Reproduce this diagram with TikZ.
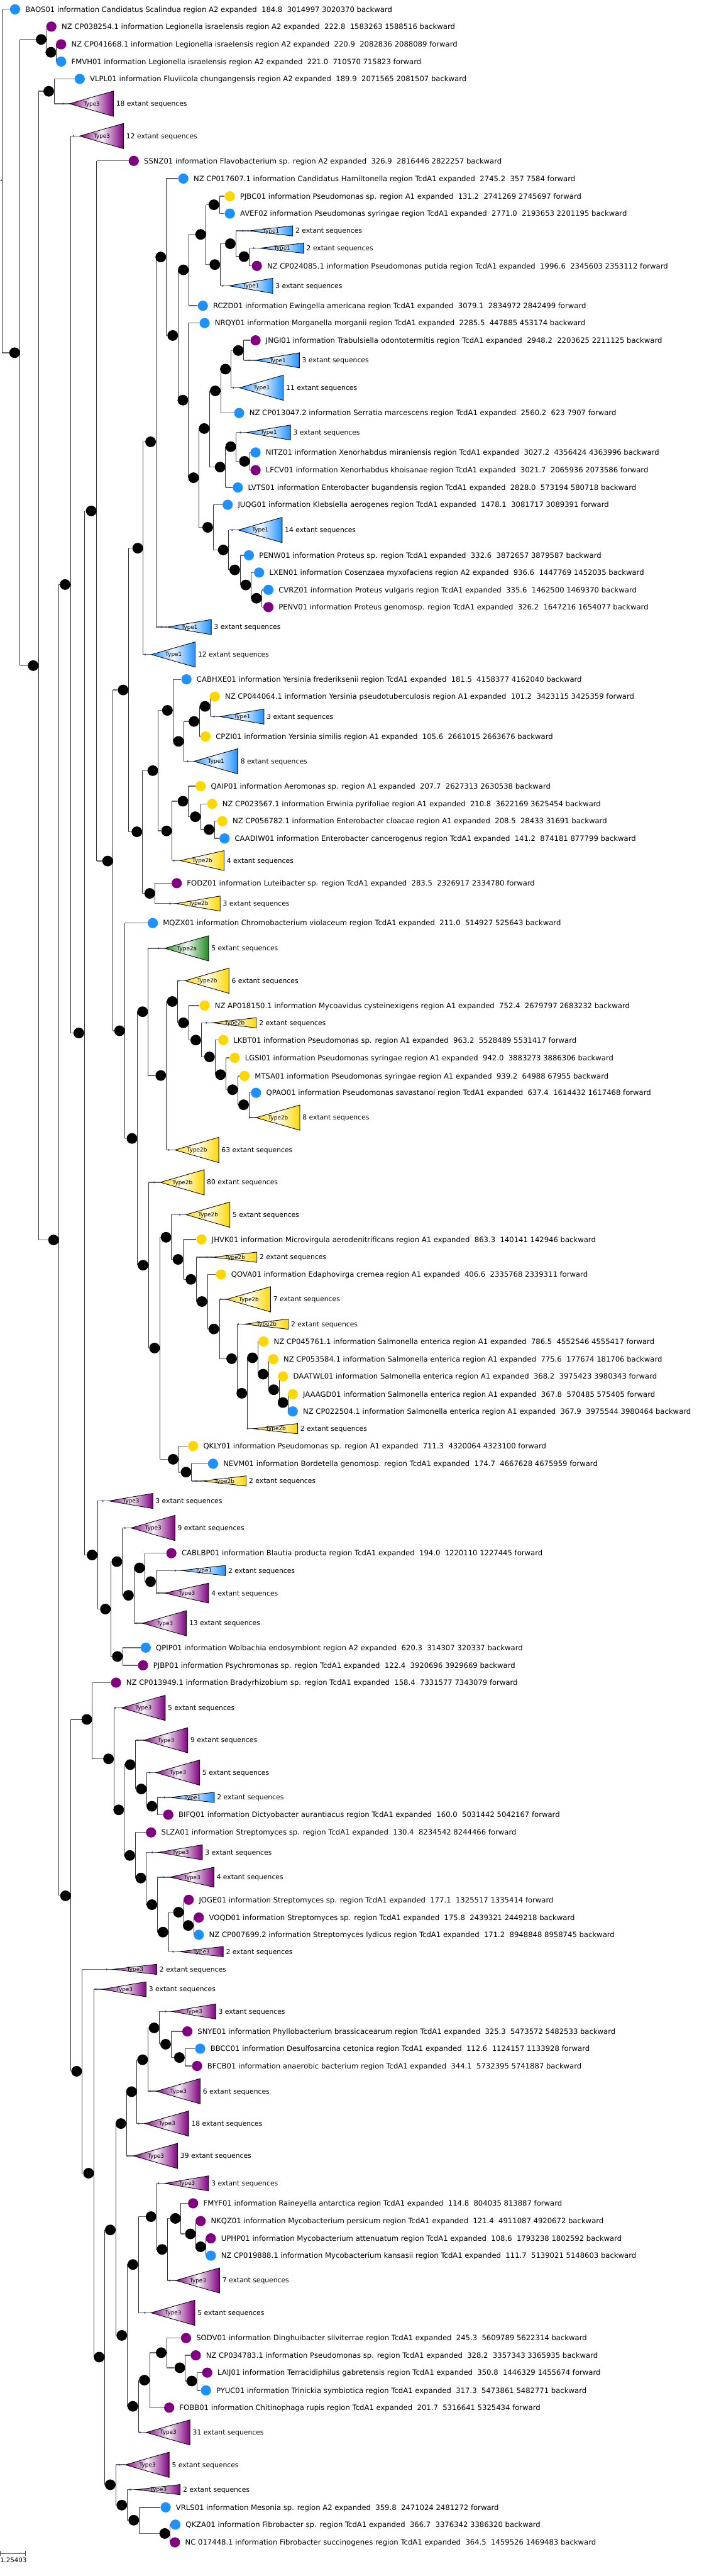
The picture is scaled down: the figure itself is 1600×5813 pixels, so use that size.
\documentclass[tikz,border=0pt]{standalone}
\usepackage{fontspec}
\setmainfont{DejaVu Sans}
\usetikzlibrary{backgrounds}
\pgfdeclarelayer{bgzero}
\pgfsetlayers{bgzero,background,main}
\definecolor{cb}{HTML}{1E90FF}
\definecolor{cp}{HTML}{800080}
\definecolor{cg}{HTML}{FFD700}
\definecolor{cgr}{HTML}{1F8A1F}
\definecolor{tipc}{HTML}{2346C8}
\newcommand\mkinode[3]{\node[inode] (#1) at (#2,#3) {};}
\newcommand\mkleaf[5]{\node[leafc, fill=#4] (#1) at (#2,#3) {};
  \node[lbl] (#1t) at ([xshift=23pt,yshift=-6pt]#1.center) {#5};}
\newcommand\mkclade[7]{\coordinate (#1) at (#2,#3);
  \path[draw=black, line width=1.2pt, left color=#5, right color=#5, middle color=#5!6] (#1) -- ++(99,-#4) -- ++(0,2*#4) -- cycle;
  \node[tipdot] (#1d) at ([xshift=-14pt]#1) {};
  \node[tlbl] (#1l) at ([xshift=50pt,yshift=-4.5pt]#1) {#6};
  \node[cnt] (#1t) at ([xshift=105pt,yshift=-5.5pt]#1) {#7 extant sequences};}
\newcommand\mkbr[2]{\draw[vline] (#1.east) -- (#1.east |- #2); \draw[hline] (#1.east |- #2) -- (#2);}
\begin{document}
\begin{tikzpicture}[x=1pt,y=-1pt,
 inode/.style={circle, fill=black, inner sep=0pt, minimum size=24pt},
 leafc/.style={circle, inner sep=0pt, minimum size=23pt},
 vline/.style={draw=black!80, line width=1.1pt},
 hline/.style={draw=black!60, line width=2pt},
 lbl/.style={font=\fontsize{16.5}{19}\selectfont, inner sep=0pt, anchor=base west},
 cnt/.style={font=\fontsize{15.3}{18}\selectfont, inner sep=0pt, anchor=base west},
 tlbl/.style={font=\fontsize{12.6}{15}\selectfont, inner sep=0pt, anchor=base},
 tipdot/.style={circle, fill=tipc, inner sep=0pt, minimum size=4.5pt}]
\begin{pgfonlayer}{bgzero}\fill[white] (0,0) rectangle (1600,5813);\end{pgfonlayer}
\useasboundingbox (0,0) rectangle (1600,5813);
% internal nodes
\node[tipdot] (root) at (3,407) {};
\mkinode{nN1}{33}{796}
\mkinode{nA}{93}{89}
\mkinode{nB}{115}{118}
\mkinode{nD}{75}{1502}
\mkinode{nC}{110}{206}
\mkinode{nE}{121}{2798}
\mkinode{nF}{147}{1319}
\mkinode{nFF}{178}{2331}
\mkinode{nG}{206}{1153}
\mkinode{nX}{208}{3509}
\mkinode{nV}{243}{1943}
\mkinode{nT}{278}{1557}
\mkinode{nW}{270}{2326}
\mkinode{nS}{311}{1237}
\mkinode{nU}{309}{1877}
\mkinode{nR}{340}{997}
\mkinode{nH}{363}{580}
\mkinode{nI}{390}{757}
\mkinode{nO}{414}{609}
\mkinode{nP}{413}{903}
\mkinode{nJ}{453}{529}
\mkinode{nK}{483}{462}
\mkinode{nL}{485}{597}
\mkinode{nM}{520}{550}
\mkinode{nN}{551}{579}
\mkinode{nQ}{437}{1078}
\mkinode{nQ1}{461}{967}
\mkinode{nQ2}{469}{1190}
\mkinode{nQ11}{486}{882}
\mkinode{nQ12}{497}{1054}
\mkinode{nQ111}{509}{833}
\mkinode{nQ1111}{538}{791}
\mkinode{nQ121}{521}{1008}
\mkinode{nQ1211}{552}{1041}
\mkinode{nQ21}{504}{1241}
\mkinode{nQ211}{530}{1286}
\mkinode{nQ2111}{555}{1320}
\mkinode{nQ21111}{579}{1350}
\mkinode{nU1}{345}{1739}
\mkinode{nU2}{338}{2016}
\mkinode{nU11}{378}{1603}
\mkinode{nU12}{376}{1875}
\mkinode{nU111}{403}{1673}
\mkinode{nU1111}{438}{1628}
\mkinode{nU11111}{463}{1594}
\mkinode{nU121}{413}{1808}
\mkinode{nU1211}{441}{1843}
\mkinode{nU12111}{472}{1872}
\mkinode{nW2}{298}{2569}
\mkinode{nW21}{322}{2283}
\mkinode{nW22}{323}{2855}
\mkinode{nW212}{363}{2427}
\mkinode{nW2121}{389}{2260}
\mkinode{nW21212}{414}{2308}
\mkinode{na1}{442}{2347}
\mkinode{na2}{473}{2385}
\mkinode{na3}{498}{2425}
\mkinode{na4}{525}{2459}
\mkinode{na5}{550}{2493}
\mkinode{nb1}{349}{3042}
\mkinode{nb11}{375}{2792}
\mkinode{nb12}{391}{3293}
\mkinode{nb111}{402}{2842}
\mkinode{nb1111}{431}{2887}
\mkinode{nb11111}{456}{2937}
\mkinode{nc1}{483}{2999}
\mkinode{nc2}{523}{3066}
\mkinode{nc3}{546}{3144}
\mkinode{nc4}{570}{3064}
\mkinode{nc5}{594}{3101}
\mkinode{nc6}{618}{3136}
\mkinode{nc7}{639}{3165}
\mkinode{nb121}{420}{3322}
\mkinode{nX2}{238}{3631}
\mkinode{nX21}{264}{3524}
\mkinode{nX22}{265}{3738}
\mkinode{nX212}{290}{3600}
\mkinode{nX2121}{315}{3538}
\mkinode{nX21212}{340}{3569}
\mkinode{nZ}{148}{4278}
\mkinode{nY}{196}{3880}
\mkinode{nY2}{245}{3969}
\mkinode{nY22}{268}{4084}
\mkinode{nY221}{294}{3982}
\mkinode{nY2212}{319}{4037}
\mkinode{nY22122}{343}{4076}
\mkinode{nY222}{293}{4187}
\mkinode{nY2222}{318}{4238}
\mkinode{nY22222}{343}{4298}
\mkinode{nY222222}{368}{4360}
\mkinode{nd1}{403}{4315}
\mkinode{nd2}{425}{4345}
\mkinode{nZ2}{173}{4674}
\mkinode{nZ22}{200}{4904}
\mkinode{nZ222}{224}{5319}
\mkinode{ne1}{249}{5032}
\mkinode{ne2}{249}{5607}
\mkinode{ne11}{273}{4792}
\mkinode{ne12}{275}{5270}
\mkinode{ne111}{297}{4720}
\mkinode{ne1111}{322}{4648}
\mkinode{ne11111}{348}{4576}
\mkinode{ne111112}{374}{4613}
\mkinode{ne1111122}{405}{4643}
\mkinode{nf1}{300}{5110}
\mkinode{nf2}{300}{5430}
\mkinode{nf11}{341}{5002}
\mkinode{nf112}{366}{5076}
\mkinode{nf1121}{396}{5006}
\mkinode{nf11212}{430}{5041}
\mkinode{nf112122}{453}{5070}
\mkinode{nf21}{326}{5371}
\mkinode{nf211}{364}{5309}
\mkinode{nf2112}{406}{5343}
\mkinode{nf21122}{433}{5373}
\mkinode{ne22}{275}{5653}
\mkinode{ne222}{302}{5687}
\mkinode{ne2222}{372}{5717}
% leaves
\mkleaf{l1}{34}{21}{cb}{BAOS01 information Candidatus Scalindua region A2 expanded\ \ 184.8\ \ 3014997 3020370 backward}
\mkleaf{l2}{116}{60}{cp}{NZ CP038254.1 information Legionella israelensis region A2 expanded\ \ 222.8\ \ 1583263 1588516 backward}
\mkleaf{l3}{138}{100}{cp}{NZ CP041668.1 information Legionella israelensis region A2 expanded\ \ 220.9\ \ 2082836 2088089 forward}
\mkleaf{l4}{138}{139}{cb}{FMVH01 information Legionella israelensis region A2 expanded\ \ 221.0\ \ 710570 715823 forward}
\mkleaf{l5}{180}{178}{cb}{VLPL01 information Fluviicola chungangensis region A2 expanded\ \ 189.9\ \ 2071565 2081507 backward}
\mkleaf{l6}{302}{363}{cp}{SSNZ01 information Flavobacterium sp. region A2 expanded\ \ 326.9\ \ 2816446 2822257 backward}
\mkleaf{l7}{414}{403}{cb}{NZ CP017607.1 information Candidatus Hamiltonella region TcdA1 expanded\ \ 2745.2\ \ 357 7584 forward}
\mkleaf{l8}{519}{443}{cg}{PJBC01 information Pseudomonas sp. region A1 expanded\ \ 131.2\ \ 2741269 2745697 forward}
\mkleaf{l9}{519}{482}{cb}{AVEF02 information Pseudomonas syringae region TcdA1 expanded\ \ 2771.0\ \ 2193653 2201195 backward}
\mkleaf{l10}{580}{600}{cp}{NZ CP024085.1 information Pseudomonas putida region TcdA1 expanded\ \ 1996.6\ \ 2345603 2353112 forward}
\mkleaf{l11}{458}{690}{cb}{RCZD01 information Ewingella americana region TcdA1 expanded\ \ 3079.1\ \ 2834972 2842499 forward}
\mkleaf{l12}{462}{729}{cb}{NRQY01 information Morganella morganii region TcdA1 expanded\ \ 2285.5\ \ 447885 453174 backward}
\mkleaf{l13}{577}{768}{cp}{JNGI01 information Trabulsiella odontotermitis region TcdA1 expanded\ \ 2948.2\ \ 2203625 2211125 backward}
\mkleaf{l14}{540}{932}{cb}{NZ CP013047.2 information Serratia marcescens region TcdA1 expanded\ \ 2560.2\ \ 623 7907 forward}
\mkleaf{l15}{577}{1021}{cb}{NITZ01 information Xenorhabdus miraniensis region TcdA1 expanded\ \ 3027.2\ \ 4356424 4363996 backward}
\mkleaf{l16}{577}{1061}{cp}{LFCV01 information Xenorhabdus khoisanae region TcdA1 expanded\ \ 3021.7\ \ 2065936 2073586 forward}
\mkleaf{l17}{537}{1100}{cb}{LVTS01 information Enterobacter bugandensis region TcdA1 expanded\ \ 2828.0\ \ 573194 580718 backward}
\mkleaf{l18}{514}{1139}{cb}{JUQG01 information Klebsiella aerogenes region TcdA1 expanded\ \ 1478.1\ \ 3081717 3089391 forward}
\mkleaf{l19}{562}{1253}{cb}{PENW01 information Proteus sp. region TcdA1 expanded\ \ 332.6\ \ 3872657 3879587 backward}
\mkleaf{l20}{585}{1292}{cb}{LXEN01 information Cosenzaea myxofaciens region A2 expanded\ \ 936.6\ \ 1447769 1452035 backward}
\mkleaf{l21}{606}{1331}{cb}{CVRZ01 information Proteus vulgaris region TcdA1 expanded\ \ 335.6\ \ 1462500 1469370 backward}
\mkleaf{l22}{606}{1370}{cp}{PENV01 information Proteus genomosp. region TcdA1 expanded\ \ 326.2\ \ 1647216 1654077 backward}
\mkleaf{l23}{421}{1533}{cb}{CABHXE01 information Yersinia frederiksenii region TcdA1 expanded\ \ 181.5\ \ 4158377 4162040 backward}
\mkleaf{l24}{485}{1572}{cg}{NZ CP044064.1 information Yersinia pseudotuberculosis region A1 expanded\ \ 101.2\ \ 3423115 3425359 forward}
\mkleaf{l25}{464}{1662}{cg}{CPZI01 information Yersinia similis region A1 expanded\ \ 105.6\ \ 2661015 2663676 backward}
\mkleaf{l26}{453}{1774}{cg}{QAIP01 information Aeromonas sp. region A1 expanded\ \ 207.7\ \ 2627313 2630538 backward}
\mkleaf{l27}{479}{1814}{cg}{NZ CP023567.1 information Erwinia pyrifoliae region A1 expanded\ \ 210.8\ \ 3622169 3625454 backward}
\mkleaf{l28}{502}{1853}{cg}{NZ CP056782.1 information Enterobacter cloacae region A1 expanded\ \ 208.5\ \ 28433 31691 backward}
\mkleaf{l29}{507}{1892}{cb}{CAADIW01 information Enterobacter cancerogenus region TcdA1 expanded\ \ 141.2\ \ 874181 877799 backward}
\mkleaf{l30}{399}{1993}{cp}{FODZ01 information Luteibacter sp. region TcdA1 expanded\ \ 283.5\ \ 2326917 2334780 forward}
\mkleaf{l31}{345}{2083}{cb}{MQZX01 information Chromobacterium violaceum region TcdA1 expanded\ \ 211.0\ \ 514927 525643 backward}
\mkleaf{l32}{462}{2269}{cg}{NZ AP018150.1 information Mycoavidus cysteinexigens region A1 expanded\ \ 752.4\ \ 2679797 2683232 backward}
\mkleaf{l33}{504}{2347}{cg}{LKBT01 information Pseudomonas sp. region A1 expanded\ \ 963.2\ \ 5528489 5531417 forward}
\mkleaf{l34}{530}{2387}{cg}{LGSI01 information Pseudomonas syringae region A1 expanded\ \ 942.0\ \ 3883273 3886306 backward}
\mkleaf{l35}{552}{2428}{cg}{MTSA01 information Pseudomonas syringae region A1 expanded\ \ 939.2\ \ 64988 67955 backward}
\mkleaf{l36}{578}{2466}{cb}{QPAO01 information Pseudomonas savastanoi region TcdA1 expanded\ \ 637.4\ \ 1614432 1617468 forward}
\mkleaf{l37}{455}{2797}{cg}{JHVK01 information Microvirgula aerodenitrificans region A1 expanded\ \ 863.3\ \ 140141 142946 backward}
\mkleaf{l38}{499}{2876}{cg}{QOVA01 information Edaphovirga cremea region A1 expanded\ \ 406.6\ \ 2335768 2339311 forward}
\mkleaf{l39}{595}{3027}{cg}{NZ CP045761.1 information Salmonella enterica region A1 expanded\ \ 786.5\ \ 4552546 4555417 forward}
\mkleaf{l40}{617}{3067}{cg}{NZ CP053584.1 information Salmonella enterica region A1 expanded\ \ 775.6\ \ 177674 181706 backward}
\mkleaf{l41}{639}{3106}{cg}{DAATWL01 information Salmonella enterica region A1 expanded\ \ 368.2\ \ 3975423 3980343 forward}
\mkleaf{l42}{661}{3146}{cg}{JAAAGD01 information Salmonella enterica region A1 expanded\ \ 367.8\ \ 570485 575405 forward}
\mkleaf{l43}{661}{3185}{cb}{NZ CP022504.1 information Salmonella enterica region A1 expanded\ \ 367.9\ \ 3975544 3980464 backward}
\mkleaf{l44}{436}{3263}{cg}{QKLY01 information Pseudomonas sp. region A1 expanded\ \ 711.3\ \ 4320064 4323100 forward}
\mkleaf{l45}{481}{3303}{cb}{NEVM01 information Bordetella genomosp. region TcdA1 expanded\ \ 174.7\ \ 4667628 4675959 forward}
\mkleaf{l46}{387}{3505}{cp}{CABLBP01 information Blautia producta region TcdA1 expanded\ \ 194.0\ \ 1220110 1227445 forward}
\mkleaf{l47}{329}{3718}{cb}{QPIP01 information Wolbachia endosymbiont region A2 expanded\ \ 620.3\ \ 314307 320337 backward}
\mkleaf{l48}{323}{3758}{cp}{PJBP01 information Psychromonas sp. region TcdA1 expanded\ \ 122.4\ \ 3920696 3929669 backward}
\mkleaf{l49}{262}{3797}{cp}{NZ CP013949.1 information Bradyrhizobium sp. region TcdA1 expanded\ \ 158.4\ \ 7331577 7343079 forward}
\mkleaf{l50}{380}{4095}{cp}{BIFQ01 information Dictyobacter aurantiacus region TcdA1 expanded\ \ 160.0\ \ 5031442 5042167 forward}
\mkleaf{l51}{341}{4135}{cp}{SLZA01 information Streptomyces sp. region TcdA1 expanded\ \ 130.4\ \ 8234542 8244466 forward}
\mkleaf{l52}{426}{4287}{cp}{JOGE01 information Streptomyces sp. region TcdA1 expanded\ \ 177.1\ \ 1325517 1335414 forward}
\mkleaf{l53}{449}{4327}{cp}{VOQD01 information Streptomyces sp. region TcdA1 expanded\ \ 175.8\ \ 2439321 2449218 backward}
\mkleaf{l54}{449}{4366}{cb}{NZ CP007699.2 information Streptomyces lydicus region TcdA1 expanded\ \ 171.2\ \ 8948848 8958745 backward}
\mkleaf{l55}{423}{4584}{cp}{SNYE01 information Phyllobacterium brassicacearum region TcdA1 expanded\ \ 325.3\ \ 5473572 5482533 backward}
\mkleaf{l56}{452}{4623}{cb}{BBCC01 information Desulfosarcina cetonica region TcdA1 expanded\ \ 112.6\ \ 1124157 1133928 forward}
\mkleaf{l57}{445}{4662}{cp}{BFCB01 information anaerobic bacterium region TcdA1 expanded\ \ 344.1\ \ 5732395 5741887 backward}
\mkleaf{l58}{436}{4972}{cp}{FMYF01 information Raineyella antarctica region TcdA1 expanded\ \ 114.8\ \ 804035 813887 forward}
\mkleaf{l59}{453}{5012}{cp}{NKQZ01 information Mycobacterium persicum region TcdA1 expanded\ \ 121.4\ \ 4911087 4920672 backward}
\mkleaf{l60}{476}{5051}{cp}{UPHP01 information Mycobacterium attenuatum region TcdA1 expanded\ \ 108.6\ \ 1793238 1802592 backward}
\mkleaf{l61}{476}{5090}{cb}{NZ CP019888.1 information Mycobacterium kansasii region TcdA1 expanded\ \ 111.7\ \ 5139021 5148603 backward}
\mkleaf{l62}{420}{5276}{cp}{SODV01 information Dinghuibacter silviterrae region TcdA1 expanded\ \ 245.3\ \ 5609789 5622314 backward}
\mkleaf{l63}{442}{5315}{cp}{NZ CP034783.1 information Pseudomonas sp. region TcdA1 expanded\ \ 328.2\ \ 3357343 3365935 backward}
\mkleaf{l64}{468}{5354}{cp}{LAIJ01 information Terracidiphilus gabretensis region TcdA1 expanded\ \ 350.8\ \ 1446329 1455674 forward}
\mkleaf{l65}{465}{5394}{cb}{PYUC01 information Trinickia symbiotica region TcdA1 expanded\ \ 317.3\ \ 5473861 5482771 backward}
\mkleaf{l66}{382}{5433}{cp}{FOBB01 information Chitinophaga rupis region TcdA1 expanded\ \ 201.7\ \ 5316641 5325434 forward}
\mkleaf{l67}{374}{5658}{cb}{VRLS01 information Mesonia sp. region A2 expanded\ \ 359.8\ \ 2471024 2481272 forward}
\mkleaf{l68}{396}{5697}{cb}{QKZA01 information Fibrobacter sp. region TcdA1 expanded\ \ 366.7\ \ 3376342 3386320 backward}
\mkleaf{l69}{395}{5737}{cp}{NC 017448.1 information Fibrobacter succinogenes region TcdA1 expanded\ \ 364.5\ \ 1459526 1469483 backward}
% collapsed clades
\mkclade{t1}{157}{234}{28.5}{cp}{Type3}{18}
\mkclade{t2}{180}{307}{28.5}{cp}{Type3}{12}
\mkclade{t3}{562}{521}{11.5}{cb}{Type1}{2}
\mkclade{t4}{587}{560}{11.5}{cb}{Type1}{2}
\mkclade{t5}{517}{645}{17}{cb}{Type1}{3}
\mkclade{t6}{577}{813}{17}{cb}{Type1}{3}
\mkclade{t7}{541}{875}{28.5}{cb}{Type1}{11}
\mkclade{t8}{557}{976}{17}{cb}{Type1}{3}
\mkclade{t9}{538}{1196}{28.5}{cb}{Type1}{14}
\mkclade{t10}{378}{1415}{17}{cb}{Type1}{3}
\mkclade{t11}{342}{1477}{28.5}{cb}{Type1}{12}
\mkclade{t12}{497}{1617}{17}{cb}{Type1}{3}
\mkclade{t13}{438}{1718}{28.5}{cb}{Type1}{8}
\mkclade{t14}{407}{1942}{22.5}{cg}{Type2b}{4}
\mkclade{t15}{398}{2039}{17}{cg}{Type2b}{3}
\mkclade{t16}{372}{2140}{28.5}{cgr}{Type2a}{5}
\mkclade{t17}{418}{2213}{28.5}{cg}{Type2b}{6}
\mkclade{t18}{480}{2308}{11.5}{cg}{Type2b}{2}
\mkclade{t19}{578}{2522}{28.5}{cg}{Type2b}{8}
\mkclade{t20}{395}{2595}{28.5}{cg}{Type2b}{63}
\mkclade{t21}{362}{2668}{28.5}{cg}{Type2b}{80}
\mkclade{t22}{420}{2741}{28.5}{cg}{Type2b}{5}
\mkclade{t23}{481}{2837}{11.5}{cg}{Type2b}{2}
\mkclade{t24}{512}{2932}{28.5}{cg}{Type2b}{7}
\mkclade{t25}{552}{2988}{11.5}{cg}{Type2b}{2}
\mkclade{t26}{573}{3224}{11.5}{cg}{Type2b}{2}
\mkclade{t27}{457}{3342}{11.5}{cg}{Type2b}{2}
\mkclade{t28}{246}{3387}{17}{cp}{Type3}{3}
\mkclade{t29}{296}{3448}{28.5}{cp}{Type3}{9}
\mkclade{t30}{410}{3544}{11.5}{cb}{Type1}{2}
\mkclade{t31}{372}{3595}{22.5}{cp}{Type3}{4}
\mkclade{t32}{322}{3663}{28.5}{cp}{Type3}{13}
\mkclade{t33}{274}{3854}{28.5}{cp}{Type3}{5}
\mkclade{t34}{325}{3927}{28.5}{cp}{Type3}{9}
\mkclade{t35}{352}{4000}{28.5}{cp}{Type3}{5}
\mkclade{t36}{385}{4056}{11.5}{cb}{Type1}{2}
\mkclade{t37}{358}{4180}{17}{cp}{Type3}{3}
\mkclade{t38}{384}{4236}{22.5}{cp}{Type3}{4}
\mkclade{t39}{405}{4404}{11.5}{cp}{Type3}{2}
\mkclade{t40}{255}{4444}{11.5}{cp}{Type3}{2}
\mkclade{t41}{231}{4489}{17}{cp}{Type3}{3}
\mkclade{t42}{388}{4539}{17}{cp}{Type3}{3}
\mkclade{t43}{353}{4719}{28.5}{cp}{Type3}{6}
\mkclade{t44}{327}{4792}{28.5}{cp}{Type3}{18}
\mkclade{t45}{302}{4865}{28.5}{cp}{Type3}{39}
\mkclade{t46}{372}{4927}{17}{cp}{Type3}{3}
\mkclade{t47}{397}{5146}{28.5}{cp}{Type3}{7}
\mkclade{t48}{341}{5219}{28.5}{cp}{Type3}{5}
\mkclade{t49}{330}{5489}{28.5}{cp}{Type3}{31}
\mkclade{t50}{283}{5562}{28.5}{cp}{Type3}{5}
\mkclade{t51}{308}{5618}{11.5}{cp}{Type3}{2}
% scale bar
\coordinate (sbA) at (1,5762);
\coordinate (sbB) at (57,5762);
\draw[black!70, line width=1.2pt] (sbA) -- (sbB);
\draw[black!70, line width=1.2pt] ([yshift=6pt]sbA) -- ([yshift=-6pt]sbA);
\draw[black!70, line width=1.2pt] ([yshift=6pt]sbB) -- ([yshift=-6pt]sbB);
\node[font=\fontsize{14.5}{17}\selectfont, inner sep=0pt, anchor=north west] (sbl) at (0,5771) {1.25403};
% branches
\begin{scope}[on background layer]
\mkbr{root}{l1}\mkbr{root}{nN1}
\mkbr{nN1}{nA}\mkbr{nN1}{nD}
\mkbr{nA}{l2}\mkbr{nA}{nB}
\mkbr{nB}{l3}\mkbr{nB}{l4}
\mkbr{nD}{nC}\mkbr{nD}{nE}
\mkbr{nC}{l5}\mkbr{nC}{t1}
\mkbr{nE}{nF}\mkbr{nE}{nZ}
\mkbr{nF}{t2}\mkbr{nF}{nFF}
\mkbr{nFF}{nG}\mkbr{nFF}{nX}
\mkbr{nG}{l6}\mkbr{nG}{nV}
\mkbr{nV}{nT}\mkbr{nV}{nW}
\mkbr{nT}{nS}\mkbr{nT}{nU}
\mkbr{nS}{nR}\mkbr{nS}{t11}
\mkbr{nR}{nH}\mkbr{nR}{t10}
\mkbr{nH}{l7}\mkbr{nH}{nI}
\mkbr{nI}{nO}\mkbr{nI}{nP}
\mkbr{nO}{nJ}\mkbr{nO}{l11}
\mkbr{nJ}{nK}\mkbr{nJ}{nL}
\mkbr{nK}{l8}\mkbr{nK}{l9}
\mkbr{nL}{nM}\mkbr{nL}{t5}
\mkbr{nM}{t3}\mkbr{nM}{nN}
\mkbr{nN}{t4}\mkbr{nN}{l10}
\mkbr{nP}{l12}\mkbr{nP}{nQ}
\mkbr{nQ}{nQ1}\mkbr{nQ}{nQ2}
\mkbr{nQ1}{nQ11}\mkbr{nQ1}{nQ12}
\mkbr{nQ11}{nQ111}\mkbr{nQ11}{l14}
\mkbr{nQ111}{nQ1111}\mkbr{nQ111}{t7}
\mkbr{nQ1111}{l13}\mkbr{nQ1111}{t6}
\mkbr{nQ12}{nQ121}\mkbr{nQ12}{l17}
\mkbr{nQ121}{t8}\mkbr{nQ121}{nQ1211}
\mkbr{nQ1211}{l15}\mkbr{nQ1211}{l16}
\mkbr{nQ2}{l18}\mkbr{nQ2}{nQ21}
\mkbr{nQ21}{t9}\mkbr{nQ21}{nQ211}
\mkbr{nQ211}{l19}\mkbr{nQ211}{nQ2111}
\mkbr{nQ2111}{l20}\mkbr{nQ2111}{nQ21111}
\mkbr{nQ21111}{l21}\mkbr{nQ21111}{l22}
\mkbr{nU}{nU1}\mkbr{nU}{nU2}
\mkbr{nU1}{nU11}\mkbr{nU1}{nU12}
\mkbr{nU11}{l23}\mkbr{nU11}{nU111}
\mkbr{nU111}{nU1111}\mkbr{nU111}{t13}
\mkbr{nU1111}{nU11111}\mkbr{nU1111}{l25}
\mkbr{nU11111}{l24}\mkbr{nU11111}{t12}
\mkbr{nU12}{nU121}\mkbr{nU12}{t14}
\mkbr{nU121}{l26}\mkbr{nU121}{nU1211}
\mkbr{nU1211}{l27}\mkbr{nU1211}{nU12111}
\mkbr{nU12111}{l28}\mkbr{nU12111}{l29}
\mkbr{nU2}{l30}\mkbr{nU2}{t15}
\mkbr{nW}{l31}\mkbr{nW}{nW2}
\mkbr{nW2}{nW21}\mkbr{nW2}{nW22}
\mkbr{nW21}{t16}\mkbr{nW21}{nW212}
\mkbr{nW212}{nW2121}\mkbr{nW212}{t20}
\mkbr{nW2121}{t17}\mkbr{nW2121}{nW21212}
\mkbr{nW21212}{l32}\mkbr{nW21212}{na1}
\mkbr{na1}{t18}\mkbr{na1}{na2}
\mkbr{na2}{l33}\mkbr{na2}{na3}
\mkbr{na3}{l34}\mkbr{na3}{na4}
\mkbr{na4}{l35}\mkbr{na4}{na5}
\mkbr{na5}{l36}\mkbr{na5}{t19}
\mkbr{nW22}{t21}\mkbr{nW22}{nb1}
\mkbr{nb1}{nb11}\mkbr{nb1}{nb12}
\mkbr{nb11}{t22}\mkbr{nb11}{nb111}
\mkbr{nb111}{l37}\mkbr{nb111}{nb1111}
\mkbr{nb1111}{t23}\mkbr{nb1111}{nb11111}
\mkbr{nb11111}{l38}\mkbr{nb11111}{nc1}
\mkbr{nc1}{t24}\mkbr{nc1}{nc2}
\mkbr{nc2}{t25}\mkbr{nc2}{nc3}
\mkbr{nc3}{nc4}\mkbr{nc3}{t26}
\mkbr{nc4}{l39}\mkbr{nc4}{nc5}
\mkbr{nc5}{l40}\mkbr{nc5}{nc6}
\mkbr{nc6}{l41}\mkbr{nc6}{nc7}
\mkbr{nc7}{l42}\mkbr{nc7}{l43}
\mkbr{nb12}{l44}\mkbr{nb12}{nb121}
\mkbr{nb121}{l45}\mkbr{nb121}{t27}
\mkbr{nX}{t28}\mkbr{nX}{nX2}
\mkbr{nX2}{nX21}\mkbr{nX2}{nX22}
\mkbr{nX21}{t29}\mkbr{nX21}{nX212}
\mkbr{nX212}{nX2121}\mkbr{nX212}{t32}
\mkbr{nX2121}{l46}\mkbr{nX2121}{nX21212}
\mkbr{nX21212}{t30}\mkbr{nX21212}{t31}
\mkbr{nX22}{l47}\mkbr{nX22}{l48}
\mkbr{nZ}{nY}\mkbr{nZ}{nZ2}
\mkbr{nY}{l49}\mkbr{nY}{nY2}
\mkbr{nY2}{t33}\mkbr{nY2}{nY22}
\mkbr{nY22}{nY221}\mkbr{nY22}{nY222}
\mkbr{nY221}{t34}\mkbr{nY221}{nY2212}
\mkbr{nY2212}{t35}\mkbr{nY2212}{nY22122}
\mkbr{nY22122}{t36}\mkbr{nY22122}{l50}
\mkbr{nY222}{l51}\mkbr{nY222}{nY2222}
\mkbr{nY2222}{t37}\mkbr{nY2222}{nY22222}
\mkbr{nY22222}{t38}\mkbr{nY22222}{nY222222}
\mkbr{nY222222}{nd1}\mkbr{nY222222}{t39}
\mkbr{nd1}{l52}\mkbr{nd1}{nd2}
\mkbr{nd2}{l53}\mkbr{nd2}{l54}
\mkbr{nZ2}{t40}\mkbr{nZ2}{nZ22}
\mkbr{nZ22}{t41}\mkbr{nZ22}{nZ222}
\mkbr{nZ222}{ne1}\mkbr{nZ222}{ne2}
\mkbr{ne1}{ne11}\mkbr{ne1}{ne12}
\mkbr{ne11}{ne111}\mkbr{ne11}{t45}
\mkbr{ne111}{ne1111}\mkbr{ne111}{t44}
\mkbr{ne1111}{ne11111}\mkbr{ne1111}{t43}
\mkbr{ne11111}{t42}\mkbr{ne11111}{ne111112}
\mkbr{ne111112}{l55}\mkbr{ne111112}{ne1111122}
\mkbr{ne1111122}{l56}\mkbr{ne1111122}{l57}
\mkbr{ne12}{nf1}\mkbr{ne12}{nf2}
\mkbr{nf1}{nf11}\mkbr{nf1}{t48}
\mkbr{nf11}{t46}\mkbr{nf11}{nf112}
\mkbr{nf112}{nf1121}\mkbr{nf112}{t47}
\mkbr{nf1121}{l58}\mkbr{nf1121}{nf11212}
\mkbr{nf11212}{l59}\mkbr{nf11212}{nf112122}
\mkbr{nf112122}{l60}\mkbr{nf112122}{l61}
\mkbr{nf2}{nf21}\mkbr{nf2}{t49}
\mkbr{nf21}{nf211}\mkbr{nf21}{l66}
\mkbr{nf211}{l62}\mkbr{nf211}{nf2112}
\mkbr{nf2112}{l63}\mkbr{nf2112}{nf21122}
\mkbr{nf21122}{l64}\mkbr{nf21122}{l65}
\mkbr{ne2}{t50}\mkbr{ne2}{ne22}
\mkbr{ne22}{t51}\mkbr{ne22}{ne222}
\mkbr{ne222}{l67}\mkbr{ne222}{ne2222}
\mkbr{ne2222}{l68}\mkbr{ne2222}{l69}
\end{scope}
\end{tikzpicture}
\end{document}
